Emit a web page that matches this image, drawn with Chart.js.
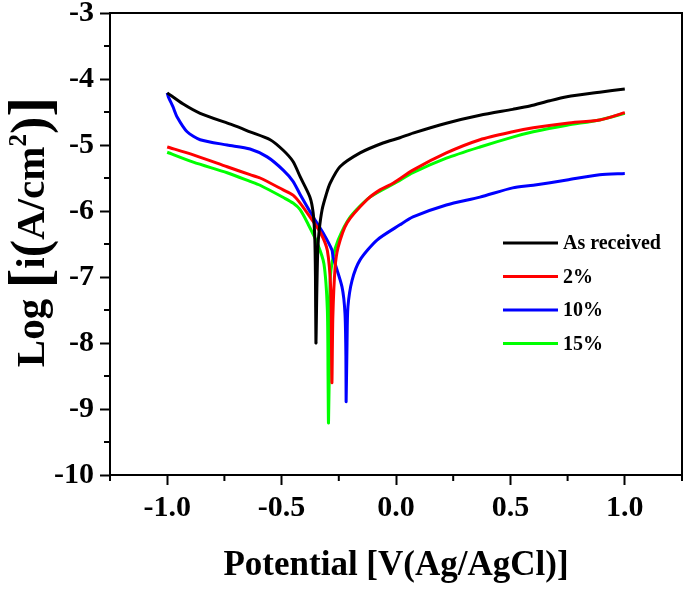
<!DOCTYPE html>
<html>
<head>
<meta charset="utf-8">
<script src="https://cdn.jsdelivr.net/npm/chart.js@4.4.1/dist/chart.umd.min.js"></script>
<style>
  body { margin: 0; background: #fff; }
  #wrap { width: 685px; height: 595px; }
</style>
</head>
<body>
<div id="wrap"><canvas id="tafelChart" width="685" height="595"></canvas></div>
<script>
// values: potential (V) and log current density
const seriesLabels = ['As received', '2%', '10%', '15%'];
const seriesColors = ['#000000', '#ff0000', '#0000ff', '#00ff00'];

const asRecX = [-1.0, -0.93, -0.856, -0.712, -0.638, -0.55, -0.493, -0.45, -0.419, -0.376, -0.362, -0.355, -0.352, -0.350, -0.346, -0.342, -0.336, -0.323, -0.305, -0.288, -0.245, -0.157, -0.057, 0.017, 0.074, 0.22, 0.367, 0.51, 0.585, 0.672, 0.747, 0.89, 1.0];
const asRecY = [-4.21, -4.38, -4.52, -4.70, -4.80, -4.92, -5.08, -5.25, -5.48, -5.79, -6.03, -6.4, -7.0, -8.0, -7.2, -6.6, -6.3, -5.98, -5.75, -5.58, -5.33, -5.12, -4.97, -4.89, -4.82, -4.67, -4.55, -4.46, -4.41, -4.33, -4.27, -4.20, -4.15];

const p2X = [-1.0, -0.886, -0.738, -0.638, -0.594, -0.493, -0.45, -0.419, -0.376, -0.33, -0.30, -0.285, -0.282, -0.280, -0.276, -0.266, -0.253, -0.214, -0.127, -0.07, -0.013, 0.074, 0.22, 0.367, 0.51, 0.6, 0.747, 0.89, 1.0];
const p2Y = [-5.03, -5.15, -5.33, -5.45, -5.50, -5.68, -5.76, -5.88, -6.09, -6.33, -6.6, -7.2, -8.0, -8.6, -7.6, -6.85, -6.55, -6.18, -5.83, -5.68, -5.58, -5.38, -5.12, -4.92, -4.80, -4.74, -4.67, -4.62, -4.51];

const p10X = [-1.0, -0.995, -0.975, -0.956, -0.913, -0.856, -0.738, -0.638, -0.563, -0.493, -0.45, -0.419, -0.362, -0.319, -0.28, -0.275, -0.236, -0.223, -0.219, -0.218, -0.214, -0.21, -0.192, -0.157, -0.083, 0.017, 0.074, 0.22, 0.367, 0.51, 0.6, 0.747, 0.89, 1.0];
const p10Y = [-4.21, -4.27, -4.42, -4.58, -4.80, -4.92, -5.00, -5.06, -5.18, -5.38, -5.55, -5.75, -6.09, -6.33, -6.59, -6.7, -7.15, -7.55, -8.2, -8.89, -8.0, -7.45, -7.05, -6.74, -6.44, -6.21, -6.09, -5.91, -5.79, -5.65, -5.61, -5.53, -5.45, -5.43];

const p15X = [-1.0, -0.886, -0.738, -0.638, -0.594, -0.49, -0.45, -0.419, -0.384, -0.345, -0.315, -0.30, -0.297, -0.295, -0.29, -0.288, -0.275, -0.253, -0.2, -0.114, 0.004, 0.074, 0.22, 0.367, 0.51, 0.6, 0.747, 0.89, 1.0];
const p15Y = [-5.11, -5.26, -5.42, -5.55, -5.61, -5.80, -5.88, -5.98, -6.20, -6.48, -6.8, -7.5, -8.5, -9.21, -8.0, -7.05, -6.7, -6.44, -6.09, -5.79, -5.56, -5.42, -5.2, -5.03, -4.88, -4.80, -4.70, -4.62, -4.52];

const xTicks = [-1.0, -0.5, 0.0, 0.5, 1.0];
const xMinor = [-1.25, -0.75, -0.25, 0.25, 0.75, 1.25];
const yMinor = [-9.5, -8.5, -7.5, -6.5, -5.5, -4.5, -3.5];

const FONT = "'Liberation Serif', 'Times New Roman', serif";

let toPoints = (xs, ys) => xs.map((x, i) => ({x: x, y: ys[i]}));

const allSeries = [[asRecX, asRecY], [p2X, p2Y], [p10X, p10Y], [p15X, p15Y]];

// frame, minor ticks, legend and the y title
const extras = {
    id: 'extras',
    afterDraw(chart) {
        const ctx = chart.ctx;
        const a = chart.chartArea;
        const sx = chart.scales.x;
        const sy = chart.scales.y;
        ctx.save();
        ctx.strokeStyle = '#000';
        ctx.lineWidth = 2;
        ctx.beginPath();
        ctx.moveTo(a.left, a.top);
        ctx.lineTo(a.right, a.top);
        ctx.lineTo(a.right, a.bottom);
        xMinor.forEach(v => {
            const px = sx.getPixelForValue(v);
            ctx.moveTo(px, a.bottom);
            ctx.lineTo(px, a.bottom + 6);
        });
        yMinor.forEach(v => {
            const py = sy.getPixelForValue(v);
            ctx.moveTo(a.left, py);
            ctx.lineTo(a.left - 6, py);
        });
        ctx.stroke();

        // legend
        ctx.font = 'bold 20px ' + FONT;
        ctx.textBaseline = 'middle';
        ctx.fillStyle = '#000';
        chart.data.datasets.forEach((ds, i) => {
            const yy = 243 + i * 33.5;
            ctx.strokeStyle = ds.borderColor;
            ctx.lineWidth = 3;
            ctx.beginPath();
            ctx.moveTo(503, yy);
            ctx.lineTo(558, yy);
            ctx.stroke();
            ctx.fillText(ds.label, 563, yy + 1);
        });

        // y title with tall brackets
        const parts = [
            {t: 'Log ', s: 41, dy: 0},
            {t: '[', s: 60, dy: 5},
            {t: 'i', s: 41, dy: 0},
            {t: '(', s: 52, dy: 3},
            {t: 'A/cm', s: 41, dy: 0},
            {t: '2', s: 25, dy: -18},
            {t: ')', s: 52, dy: 3},
            {t: ']', s: 60, dy: 5}
        ];
        let total = 0;
        parts.forEach(p => {
            ctx.font = 'bold ' + p.s + 'px ' + FONT;
            p.w = ctx.measureText(p.t).width;
            total += p.w;
        });
        ctx.translate(44, 232);
        ctx.rotate(-Math.PI / 2);
        ctx.textBaseline = 'alphabetic';
        let cx = -total / 2;
        parts.forEach(p => {
            ctx.font = 'bold ' + p.s + 'px ' + FONT;
            ctx.fillText(p.t, cx, p.dy);
            cx += p.w;
        });
        ctx.restore();
    }
};

const tafelChart = new Chart(document.getElementById('tafelChart').getContext('2d'), {
    type: 'scatter',
    data: {
        datasets: allSeries.map((s, i) => ({
            label: seriesLabels[i],
            data: toPoints(s[0], s[1]),
            showLine: true,
            borderColor: seriesColors[i],
            backgroundColor: seriesColors[i],
            borderWidth: 3,
            pointRadius: 0,
            tension: 0.25
        }))
    },
    options: {
        responsive: false,
        animation: false,
        devicePixelRatio: 1,
        layout: {padding: {top: 13, right: 3, left: 0, bottom: 0}},
        plugins: {
            legend: {display: false},
            tooltip: {enabled: false}
        },
        scales: {
            x: {
                type: 'linear',
                min: -1.25,
                max: 1.25,
                afterBuildTicks: scale => {
                    scale.ticks = xTicks.map(v => ({value: v}));
                },
                afterFit: scale => {
                    scale.height = 120;
                    scale.paddingLeft = 0;
                    scale.paddingRight = 0;
                },
                ticks: {
                    callback: v => v.toFixed(1),
                    font: {family: FONT, size: 30, weight: 'bold'},
                    color: '#000',
                    padding: 5,
                    maxRotation: 0,
                    autoSkip: false
                },
                grid: {drawOnChartArea: false, tickLength: 10, tickWidth: 2, color: '#000'},
                border: {color: '#000', width: 2},
                title: {
                    display: true,
                    text: 'Potential [V(Ag/AgCl)]',
                    color: '#000',
                    font: {family: FONT, size: 35, weight: 'bold'},
                    padding: {top: 0, bottom: 8}
                }
            },
            y: {
                type: 'linear',
                min: -10,
                max: -3,
                afterFit: scale => {
                    scale.width = 110;
                    scale.paddingTop = 0;
                    scale.paddingBottom = 0;
                },
                ticks: {
                    stepSize: 1,
                    font: {family: FONT, size: 30, weight: 'bold'},
                    color: '#000',
                    padding: 6
                },
                grid: {drawOnChartArea: false, tickLength: 10, tickWidth: 2, color: '#000'},
                border: {color: '#000', width: 2}
            }
        }
    },
    plugins: [extras]
});
</script>
</body>
</html>
